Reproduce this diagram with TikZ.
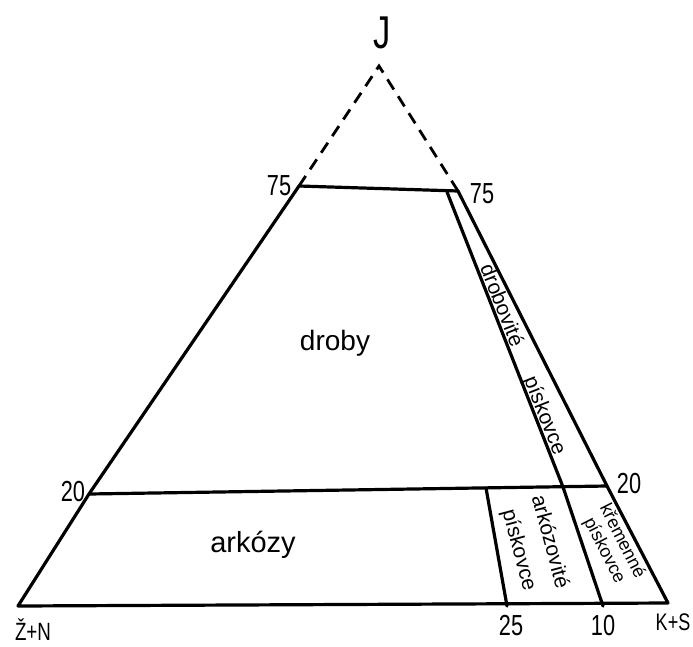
\documentclass[tikz,border=0pt]{standalone}
\usepackage{fontspec}
\setmainfont{Liberation Sans}
\newfontfamily\narrowfont{Liberation Sans}[FakeStretch=0.75]
\begin{document}
\begin{tikzpicture}[x=1pt,y=-1pt,
  edge/.style={line width=3.2pt,line join=round,line cap=round},
  dashedge/.style={line width=2.8pt,dash pattern=on 12pt off 8pt},
  lbl/.style={inner sep=0pt,font=\fontsize{21}{22}\selectfont,align=center},
  num/.style={inner sep=0pt,font=\narrowfont\fontsize{29}{29}\selectfont}]
\useasboundingbox (0,0) rectangle (693,646);
% corner points
\coordinate (ZN) at (18,606);
\coordinate (KS) at (668,603);
\coordinate (J) at (379,66);
\coordinate (L75) at (299,186);
\coordinate (R75) at (458,191);
\coordinate (I75) at (447,192);
\coordinate (L20) at (89,494);
\coordinate (R20) at (607,486);
\coordinate (I20) at (563,487);
\coordinate (B10) at (603,606);
\coordinate (T25) at (486,488);
\coordinate (B25) at (507,606);
% outline
\draw[edge] (ZN) -- (L20) -- (L75) -- (R75) -- (R20) -- (KS) -- cycle;
\draw[dashedge] (L75) -- (J) -- (R75);
% inner lines
\draw[edge] (L20) -- (R20);
\draw[edge] (I75) -- (I20) -- (B10);
\draw[edge] (T25) -- (B25);
% labels
\node[num,font=\narrowfont\fontsize{46}{46}\selectfont] (lJ) at (382,33) {J};
\node[num] (l75a) at (279,186) {75};
\node[num] (l75b) at (482,194) {75};
\node[num] (l20a) at (73,492) {20};
\node[num] (l20b) at (629,484) {20};
\node[num,font=\narrowfont\fontsize{25}{25}\selectfont] (lZN) at (33,630) {Ž+N};
\node[num,font=\narrowfont\fontsize{24}{24}\selectfont] (lKS) at (673,622) {K+S};
\node[num] (l25) at (511,626) {25};
\node[num] (l10) at (603,626) {10};
\node[lbl,font=\fontsize{28}{28}\selectfont] (droby) at (335,343) {droby};
\node[lbl,font=\fontsize{29}{29}\selectfont] (arkozy) at (253,545) {arkózy};
\node[lbl,font=\fontsize{21}{21}\selectfont,rotate=-68.5,anchor=base] (drobp) at (517,362) {drobovité\hspace{1.6em}pískovce};
\node[lbl,font=\fontsize{21}{32}\selectfont,rotate=-75] (arkp) at (534,546) {arkózovité\\pískovce};
\node[lbl,font=\fontsize{18}{20}\selectfont,rotate=-63] (krem) at (613,546) {křemenné\\pískovce};
\end{tikzpicture}
\end{document}
